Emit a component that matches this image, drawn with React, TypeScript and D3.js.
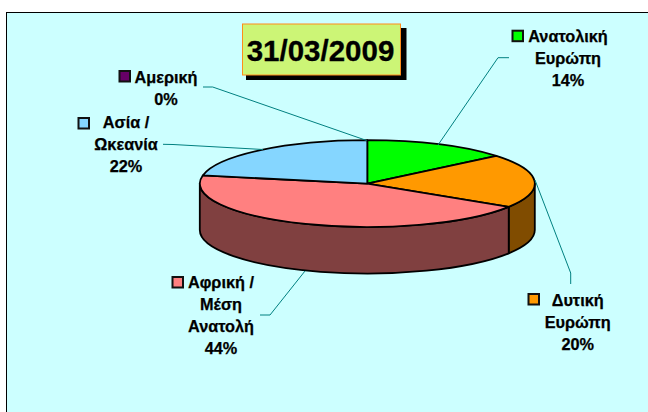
import React from "react";
import * as d3 from "d3";

const categories = ["Αμερική", "Ανατολική Ευρώπη", "Δυτική Ευρώπη", "Αφρική / Μέση Ανατολή", "Ασία / Ωκεανία"];
const values = [0, 14, 20, 44, 22];
const topColors = ["#660066", "#00FF00", "#FF9900", "#FF8080", "#85D6FF"];
const sideColors = ["#330033", "#008000", "#804C00", "#804040", "#436B80"];
const title = "31/03/2009";

const W = 648, H = 412;
const cx = 367.3, cy = 183.6, rx = 167.5, ry = 43.4, depth = 46.5;
const FONT = "'Liberation Sans', Arial, sans-serif";

type Label = { lines: string[]; x: number; y: number; swatch: [number, number]; color: string };
const labels: Label[] = [
  { lines: ["Αμερική", "0%"], x: 166, y: 82.5, swatch: [118.5, 70], color: topColors[0] },
  { lines: ["Ανατολική", "Ευρώπη", "14%"], x: 568, y: 41.7, swatch: [511.5, 29.7], color: topColors[1] },
  { lines: ["Δυτική", "Ευρώπη", "20%"], x: 577.7, y: 305.5, swatch: [527.5, 293], color: topColors[2] },
  { lines: ["Αφρική /", "Μέση", "Ανατολή", "44%"], x: 221, y: 288.3, swatch: [171.5, 276], color: topColors[3] },
  { lines: ["Ασία /", "Ωκεανία", "22%"], x: 126, y: 128, swatch: [77.5, 117], color: topColors[4] },
];
const leaders: [number, number][][] = [
  [[203, 87], [212.7, 87], [366.7, 140.5]],
  [[509, 57.7], [498, 57.7], [438, 145]],
  [[570.7, 284], [570.7, 273], [535, 180]],
  [[260, 315], [270, 315], [305, 271]],
  [[163, 144.3], [173, 144.5], [263, 149.5]],
];

const pie = d3.pie<number>().sort(null)(values);
const px = (a: number) => cx + rx * Math.sin(a);
const py = (a: number) => cy - ry * Math.cos(a);
const arcGen = d3.arc<d3.PieArcDatum<number>>().innerRadius(0).outerRadius(rx);
const lineGen = d3.line();

// The wall is only visible on the front half of the ellipse (90° to 270°).
function sidePath(a0: number, a1: number) {
  const a = Math.max(a0, Math.PI / 2);
  const b = Math.min(a1, 1.5 * Math.PI);
  if (b <= a) return null;
  return `M${px(a)},${py(a)}A${rx},${ry} 0 0 1 ${px(b)},${py(b)}L${px(b)},${py(b) + depth}A${rx},${ry} 0 0 0 ${px(a)},${py(a) + depth}Z`;
}

export default function App() {
  return (
    <svg width={W} height={H} style={{ position: "absolute", left: 0, top: 0, background: "#fff" }} fontFamily={FONT}>
      <rect x={6.5} y={12.5} width={W} height={H} fill="#CCFFFF" stroke="#000" strokeWidth={1} />
      <g stroke="#000" strokeWidth={1.8} strokeLinejoin="round">
        {pie.map((d, i) => {
          const p = sidePath(d.startAngle, d.endAngle);
          return p ? <path key={i} d={p} fill={sideColors[i]} /> : null;
        })}
        <g transform={`translate(${cx},${cy}) scale(1,${ry / rx})`}>
          {pie.map((d, i) =>
            d.endAngle > d.startAngle ? (
              <path key={i} d={arcGen(d) as string} fill={topColors[i]} vectorEffect="non-scaling-stroke" />
            ) : null
          )}
        </g>
      </g>
      <g fill="none" stroke="#008080" strokeWidth={1}>
        {leaders.map((l, i) => <path key={i} d={lineGen(l) as string} />)}
      </g>
      {labels.map((l, i) => (
        <g key={i}>
          <rect x={l.swatch[0] + 1} y={l.swatch[1] + 1} width={10.5} height={10.5} fill={l.color} stroke="#111" strokeWidth={2} />
          <text textAnchor="middle" fontSize={16.3} fontWeight="bold" fill="#000" stroke="#000" strokeWidth={0.25}>
            {l.lines.map((t, j) => <tspan key={j} x={l.x} y={l.y + j * 22}>{t}</tspan>)}
          </text>
        </g>
      ))}
      <rect x={246} y={28} width={160.5} height={52} fill="#000" />
      <rect x={242.5} y={24} width={158} height={51} fill="#CCF576" stroke="#FF8C1A" strokeWidth={1} />
      <text x={320.5} y={61} textAnchor="middle" fontSize={29.5} fontWeight="bold" fill="#000" stroke="#000" strokeWidth={0.3}>{title}</text>
    </svg>
  );
}
